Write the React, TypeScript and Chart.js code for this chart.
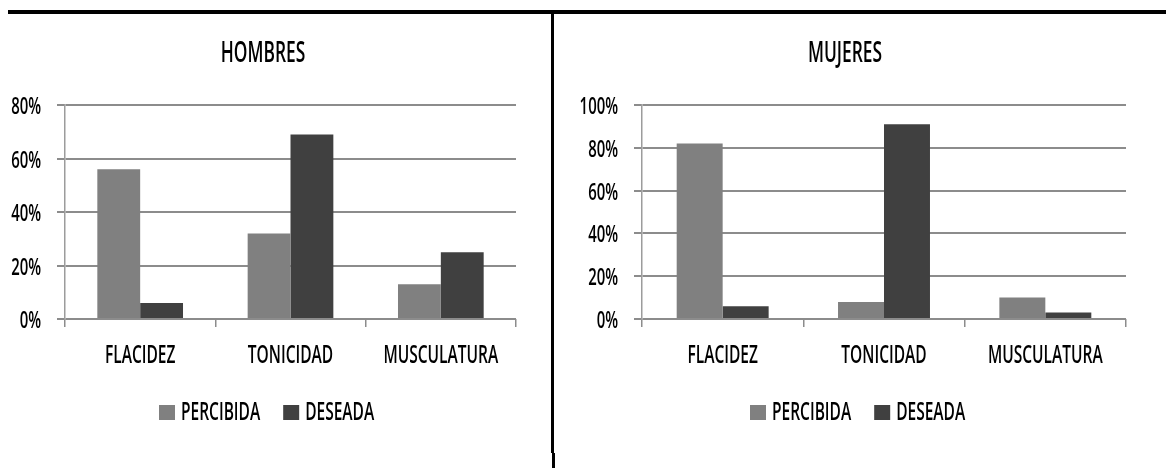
import React, { useEffect, useRef } from "react";
import { Chart, registerables } from "chart.js";

Chart.register(...registerables);

// Shared categories and series names
const categories = ["FLACIDEZ", "TONICIDAD", "MUSCULATURA"];
const seriesNames = ["PERCIBIDA", "DESEADA"];
const seriesColors = ["#808080", "#404040"];

// HOMBRES (percent)
const hombresPercibida = [56, 32, 13];
const hombresDeseada = [6, 69, 25];
const hombresMax = 80;

// MUJERES (percent)
const mujeresPercibida = [82, 8, 10];
const mujeresDeseada = [6, 91, 3];
const mujeresMax = 100;

const tickStep = 20;

const FONT_FAMILY = '"Open Sans", "DejaVu Sans", sans-serif';
const SQUEEZE = 0.62;

function drawCondensed(
  ctx: CanvasRenderingContext2D,
  text: string,
  x: number,
  y: number,
  size: number,
  align: "left" | "center" | "right"
): number {
  ctx.save();
  ctx.font = `600 ${size}px ${FONT_FAMILY}`;
  ctx.textBaseline = "alphabetic";
  ctx.textAlign = "left";
  const w = ctx.measureText(text).width * SQUEEZE;
  const left = align === "left" ? x : align === "center" ? x - w / 2 : x - w;
  ctx.translate(left, y);
  ctx.scale(SQUEEZE, 1);
  ctx.fillStyle = "#000";
  ctx.fillText(text, 0, 0);
  ctx.restore();
  return w;
}

type PanelLayout = {
  title: string;
  titleX: number;
  legendLeft: number;
  padLeft: number;
  padRight: number;
};

function makeTextPlugin(layout: PanelLayout) {
  return {
    id: "panelText",
    afterDraw(chart: any) {
      const ctx: CanvasRenderingContext2D = chart.ctx;
      const area = chart.chartArea;
      const xs = chart.scales.x;
      const ys = chart.scales.y;

      // title
      drawCondensed(ctx, layout.title, layout.titleX, 62, 28, "center");

      // value axis labels
      ys.ticks.forEach((t: any) => {
        const py = ys.getPixelForValue(t.value);
        drawCondensed(ctx, `${t.value}%`, area.left - 24, py + 9, 24, "right");
      });

      // category labels
      categories.forEach((c, i) => {
        const px = xs.getPixelForTick(i);
        drawCondensed(ctx, c, px, 363, 25, "center");
      });

      // legend
      let lx = layout.legendLeft;
      seriesNames.forEach((name, i) => {
        ctx.save();
        ctx.fillStyle = seriesColors[i];
        ctx.fillRect(lx, 405, 16, 15);
        ctx.restore();
        lx += 16 + 6;
        const w = drawCondensed(ctx, name, lx, 420, 25, "left");
        lx += w + 23;
      });
    },
  };
}

function Panel(props: {
  percibida: number[];
  deseada: number[];
  max: number;
  layout: PanelLayout;
}) {
  const ref = useRef<HTMLCanvasElement | null>(null);
  useEffect(() => {
    if (!ref.current) return;
    const { layout } = props;
    const chart = new Chart(ref.current, {
      type: "bar",
      data: {
        labels: categories,
        datasets: [
          {
            label: seriesNames[0],
            data: props.percibida,
            backgroundColor: seriesColors[0],
            categoryPercentage: 0.57,
            barPercentage: 1,
          },
          {
            label: seriesNames[1],
            data: props.deseada,
            backgroundColor: seriesColors[1],
            categoryPercentage: 0.57,
            barPercentage: 1,
          },
        ],
      },
      options: {
        responsive: false,
        animation: false,
        layout: {
          padding: { left: layout.padLeft, right: layout.padRight, top: 105, bottom: 141 },
        },
        plugins: {
          legend: { display: false },
          title: { display: false },
          tooltip: { enabled: false },
        },
        scales: {
          x: {
            grid: {
              display: true,
              drawOnChartArea: false,
              drawTicks: true,
              tickLength: 8,
              color: "#8c8c8c",
              lineWidth: 1.5,
            },
            border: { display: false },
            ticks: { display: false },
          },
          y: {
            min: 0,
            max: props.max,
            ticks: { stepSize: tickStep, display: false },
            grid: { color: "#8c8c8c", lineWidth: 2, tickLength: 8 },
            border: { display: true, color: "#9c9c9c", width: 1.5 },
          },
        },
      },
      plugins: [makeTextPlugin(layout)],
    } as any);
    return () => chart.destroy();
  }, []);
  return (
    <canvas
      ref={ref}
      width={1166}
      height={468}
      style={{ position: "absolute", left: 0, top: 0, width: 1166, height: 468 }}
    />
  );
}

export default function App() {
  return (
    <div
      style={{
        position: "absolute",
        left: 0,
        top: 0,
        width: 1166,
        height: 468,
        background: "#fff",
        overflow: "hidden",
      }}
    >
      <Panel
        percibida={hombresPercibida}
        deseada={hombresDeseada}
        max={hombresMax}
        layout={{ title: "HOMBRES", titleX: 263, legendLeft: 159, padLeft: 57, padRight: 650 }}
      />
      <Panel
        percibida={mujeresPercibida}
        deseada={mujeresDeseada}
        max={mujeresMax}
        layout={{ title: "MUJERES", titleX: 845, legendLeft: 750, padLeft: 634, padRight: 40 }}
      />
      <div style={{ position: "absolute", left: 8, top: 10, width: 1158, height: 4, background: "#000" }} />
      <div style={{ position: "absolute", left: 551, top: 10, width: 3, height: 443, background: "#000" }} />
      <div style={{ position: "absolute", left: 552, top: 453, width: 3, height: 15, background: "#000" }} />
    </div>
  );
}
